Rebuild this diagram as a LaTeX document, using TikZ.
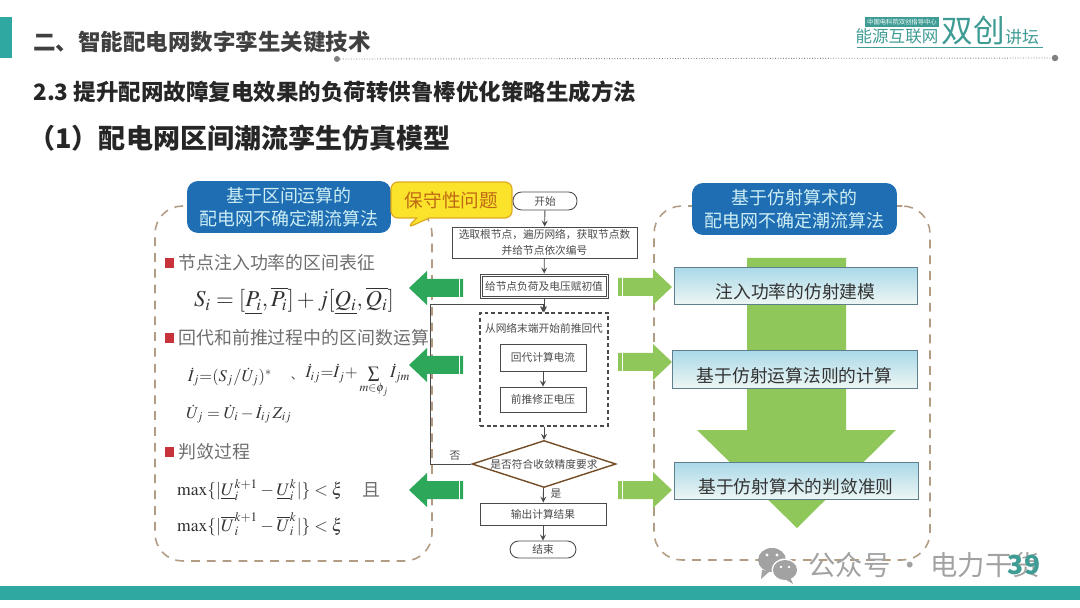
\documentclass[tikz,border=0pt]{standalone}
\usepackage{mathptmx}
\usepackage[no-math]{fontspec}
\setmainfont{Noto Sans CJK SC}
\usetikzlibrary{shapes.geometric,shapes.callouts}
\definecolor{tealbar}{HTML}{2FA8A2}
\definecolor{titlegray}{HTML}{404040}
\definecolor{labelgray}{HTML}{6E6E6E}
\definecolor{panelline}{HTML}{B29C84}
\definecolor{headblue}{HTML}{1F6DB3}
\definecolor{headtext}{HTML}{CDEFF4}
\definecolor{callfill}{HTML}{FBE22B}
\definecolor{callline}{HTML}{DDAA22}
\definecolor{calltext}{HTML}{BF6A14}
\definecolor{darkarrow}{HTML}{2DA85A}
\definecolor{lightarrow}{HTML}{8FC75A}
\definecolor{boxtop}{HTML}{A9D8E8}
\definecolor{boxbottom}{HTML}{EDF6F4}
\definecolor{boxline}{HTML}{5F7F8C}
\definecolor{flowline}{HTML}{4A4A4A}
\definecolor{redmark}{HTML}{C8323A}
\definecolor{marktext}{HTML}{A2A2A2}
\definecolor{logoteal}{HTML}{3E9C94}
\tikzset{
  panel/.style={draw=panelline, line width=0.9pt, dash pattern=on 5pt off 4pt, rounded corners=0.55cm},
  headbox/.style={fill=headblue, rounded corners=0.22cm, text=headtext, align=center, inner sep=0pt, font=\fontsize{10.2}{12.8}\selectfont},
  flowbox/.style={draw=flowline, rectangle, line width=0.5pt, inner sep=0pt, align=center, text=flowline, font=\fontsize{6.1}{9.2}\selectfont},
  stadium/.style={flowbox, rounded corners=0.17cm},
  flowarrow/.style={draw=flowline, line width=0.5pt, -stealth},
  stepbox/.style={draw=boxline, rectangle, line width=0.5pt, top color=boxtop, bottom color=boxbottom, inner sep=0pt, text height=0.58cm, text depth=0.04cm, text=black!80, font=\fontsize{10.1}{12}\selectfont},
  sidelabel/.style={anchor=west, inner sep=0pt, text=labelgray, font=\fontsize{10.2}{12}\selectfont},
  redsquare/.style={fill=redmark, rectangle, inner sep=0pt, minimum width=0.2cm, minimum height=0.2cm},
  formula/.style={inner sep=0pt, text=black!80, font=\fontsize{9.4}{12}\selectfont},
  maxline/.style={inner sep=0pt, text=black!80, font=\fontsize{10}{12}\selectfont},
  headline/.style={anchor=west, inner sep=0pt, font=\fontsize{12.8}{15}\selectfont\bfseries}
}
\begin{document}
\begin{tikzpicture}[x=0.02cm,y=-0.02cm]
\useasboundingbox (0,0) rectangle (1080,608);
\fill[tealbar] (0,17) rectangle (12,58);
\fill[tealbar] (0,586) rectangle (1080,600);
\node[headline, text=titlegray] (title) at (33,42) {二、智能配电网数字孪生关键技术};
\node[fill=gray, circle, inner sep=0pt, minimum size=0.12cm] (dotl) at (337,59) {};
\node[fill=gray, circle, inner sep=0pt, minimum size=0.13cm] (dotr) at (1055,58) {};
\draw[gray, densely dotted, line width=0.5pt] (dotl) -- (dotr);
\node[headline, text=black!85] (sub) at (33,92) {2.3 提升配网故障复电效果的负荷转供鲁棒优化策略生成方法};
\node[headline, text=black!85, font=\fontsize{15.4}{18}\selectfont\bfseries] (subsub) at (28,138) {（1）配电网区间潮流孪生仿真模型};

\node[fill=logoteal, inner sep=1pt, text=white, font=\fontsize{3.6}{4}\selectfont] (logotop) at (902,22) {中国电科院双创指导中心};
\node[inner sep=0pt, text=logoteal, font=\fontsize{9.4}{10}\selectfont] (logoa) at (897,36) {能源互联网};
\node[inner sep=0pt, text=logoteal, font=\fontsize{18}{19}\selectfont] (logob) at (973,31) {双创};
\node[inner sep=0pt, text=logoteal, font=\fontsize{9.6}{10}\selectfont] (logoc) at (1022,37) {讲坛};
\coordinate (logol) at (857,47);
\coordinate (logor) at (1043,47);
\draw[logoteal, line width=0.4pt] (logol) -- (logor);

\node[panel, minimum width=5.54cm, minimum height=7.1cm] (leftpanel) at (293.5,383.5) {};
\node[panel, minimum width=5.52cm, minimum height=7.08cm] (rightpanel) at (792,383) {};

\fill[lightarrow] (747,258) -- (846,258) -- (846,430) -- (896,430) -- (797,528) -- (697,430) -- (747,430) -- cycle;

\node[headbox, minimum width=4.08cm, minimum height=1.04cm] (lefthead) at (289,207) {基于区间运算的\\配电网不确定潮流算法};
\node[headbox, minimum width=4.1cm, minimum height=1.04cm] (righthead) at (794.5,209) {基于仿射算术的\\配电网不确定潮流算法};
\node[rectangle callout, callout absolute pointer={(407,228)}, draw=callline, fill=callfill, line width=0.7pt, rounded corners=0.14cm, minimum width=2.42cm, minimum height=0.72cm, inner sep=0pt, text=calltext, font=\fontsize{10.6}{12}\selectfont] (issue) at (451.5,200) {保守性问题};

\node[redsquare] (marka) at (169.5,263) {};
\node[sidelabel] (labela) at (178,263) {节点注入功率的区间表征};
\node[redsquare] (markb) at (169.5,338) {};
\node[sidelabel] (labelb) at (178,338) {回代和前推过程中的区间数运算};
\node[redsquare] (markc) at (169.5,452) {};
\node[sidelabel] (labelc) at (178,452) {判敛过程};

\node[formula, font=\fontsize{13}{14}\selectfont] (eqa) at (294,301) {$S_i=[\underline{P_i},\overline{P_i}]+j[\underline{Q_i},\overline{Q_i}]$};
\node[formula] (eqb) at (230,377) {$\dot{I}_j{=}(S_j/\dot{U}_j)^{*}$};
\node[inner sep=0pt, text=black!70, font=\fontsize{7}{8}\selectfont] (comma) at (297,378) {、};
\node[formula] (eqc) at (358,381) {$\dot{I}_{ij}{=}\dot{I}_j{+}\sum\limits_{m\in\phi_j}\dot{I}_{jm}$};
\node[formula] (eqd) at (239,414) {$\dot{U}_j=\dot{U}_i-\dot{I}_{ij}\,Z_{ij}$};
\node[maxline] (eqe) at (260,490) {$\max\{|\underline{U}_i^{k+1}-\underline{U}_i^{k}|\}<\xi$};
\node[inner sep=0pt, text=labelgray, font=\fontsize{10.2}{11}\selectfont] (eqand) at (371,490) {且};
\node[maxline] (eqf) at (260,524) {$\max\{|\overline{U}_i^{k+1}-\overline{U}_i^{k}|\}<\xi$};

\node[stadium, minimum width=1.28cm, minimum height=0.36cm] (start) at (545,201) {开始};
\node[flowbox, minimum width=3.7cm, minimum height=0.62cm] (init) at (544.5,242.5) {选取根节点，遍历网络，获取节点数\\并给节点依次编号};
\node[flowbox, minimum width=2.56cm, minimum height=0.48cm] (assignrim) at (544,286) {};
\node[flowbox, minimum width=2.48cm, minimum height=0.4cm] (assign) at (544,286) {给节点负荷及电压赋初值};
\node[flowbox, dash pattern=on 2.2pt off 1.6pt, line width=0.8pt, minimum width=2.56cm, minimum height=2.26cm] (sweep) at (544,369.5) {};
\node[inner sep=0pt, text=flowline, font=\fontsize{6.1}{8}\selectfont] (sweeptext) at (544,328) {从网络末端开始前推回代};
\node[flowbox, minimum width=1.72cm, minimum height=0.54cm] (back) at (543,357.5) {回代计算电流};
\node[flowbox, minimum width=1.72cm, minimum height=0.5cm] (front) at (543,399.5) {前推修正电压};
\node[flowbox, diamond, aspect=3.06, line width=0.8pt, draw=brown!60!black, minimum width=2.88cm, minimum height=0.94cm] (judge) at (544,464) {是否符合收敛精度要求};
\node[flowbox, minimum width=2.52cm, minimum height=0.44cm] (output) at (543,514) {输出计算结果};
\node[stadium, minimum width=1.32cm, minimum height=0.34cm] (finish) at (543,549.5) {结束};
\coordinate (loopa) at (430,464);
\coordinate (loopb) at (430,304);
\coordinate (loopc) at (543,304);
\draw[flowarrow] (start) -- (init);
\draw[flowarrow] (init) -- (assignrim);
\draw[flowarrow] (assignrim) -- (sweep);
\draw[flowarrow] (back) -- (front);
\draw[flowarrow] (sweep) -- (judge);
\draw[flowarrow] (judge) -- (output);
\draw[flowarrow] (output) -- (finish);
\draw[flowarrow] (judge.west) -- (loopa) -- (loopb) -- (loopc) -- (loopc |- sweep.north);
\node[inner sep=0pt, text=flowline, font=\fontsize{6.1}{8}\selectfont] (no) at (455,456) {否};
\node[inner sep=0pt, text=flowline, font=\fontsize{6.1}{8}\selectfont] (yes) at (556,494) {是};

\foreach \ypos in {288,365,490} {
  \fill[darkarrow] (463,\ypos-9) -- (427,\ypos-9) -- (427,\ypos-17) -- (409,\ypos) -- (427,\ypos+17) -- (427,\ypos+9) -- (463,\ypos+9) -- cycle;
  \fill[white] (459,\ypos-9) rectangle (460,\ypos+9);
}
\foreach \ypos in {287,362,490} {
  \fill[lightarrow] (618,\ypos-9) -- (653,\ypos-9) -- (653,\ypos-18) -- (672,\ypos) -- (653,\ypos+18) -- (653,\ypos+9) -- (618,\ypos+9) -- cycle;
  \fill[white] (622,\ypos-9) rectangle (623,\ypos+9);
}

\node[stepbox, minimum width=4.86cm, minimum height=0.74cm] (stepa) at (795.5,285.5) {注入功率的仿射建模};
\node[stepbox, minimum width=4.9cm, minimum height=0.76cm] (stepb) at (794.5,369) {基于仿射运算法则的计算};
\node[stepbox, minimum width=4.88cm, minimum height=0.74cm] (stepc) at (796,480.5) {基于仿射算术的判敛准则};

\fill[marktext] (772,560) ellipse (14 and 12);
\fill[marktext] (762,570) -- (761,579) -- (770,571) -- cycle;
\fill[white] (785,570) ellipse (13.5 and 11.5);
\fill[marktext] (785,570) ellipse (12 and 10);
\fill[marktext] (790,577) -- (793,584) -- (783,578) -- cycle;
\foreach \xpos/\ypos/\dotsize in {767/555/1.6,777/555/1.6,781/567/1.3,789/567/1.3} {
  \fill[white] (\xpos,\ypos) circle (\dotsize);
}
\node[inner sep=0pt, anchor=west, text=marktext, font=\fontsize{15.6}{18}\selectfont] (mark) at (808,565) {公众号 · 电力干货};
\node[inner sep=0pt, text=logoteal, font=\fontsize{15}{18}\selectfont\bfseries] (page) at (1024,565) {39};
\end{tikzpicture}
\end{document}
